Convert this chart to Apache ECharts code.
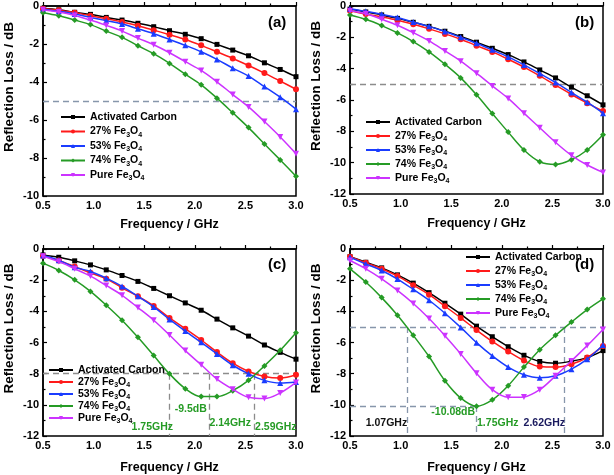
<!DOCTYPE html>
<html><head><meta charset="utf-8">
<script src="https://cdn.jsdelivr.net/npm/echarts@6/dist/echarts.min.js"></script>
<style>html,body{margin:0;padding:0;background:#fff}#c{width:614px;height:475px}</style>
</head><body><div id="c"></div>
<script>
const freq = [0.5,0.656,0.813,0.969,1.125,1.281,1.438,1.594,1.75,1.906,2.063,2.219,2.375,2.531,2.688,2.844,3.0];
const names = ['Activated Carbon','27% Fe3O4','53% Fe3O4','74% Fe3O4','Pure Fe3O4'];
const xTicks = ['0.5','1.0','1.5','2.0','2.5','3.0'];
// panel (a)
const a_ac = [-0.12,-0.2,-0.33,-0.44,-0.6,-0.74,-0.91,-1.09,-1.3,-1.49,-1.72,-2.02,-2.32,-2.62,-2.99,-3.34,-3.72];
const a_27 = [-0.15,-0.22,-0.35,-0.51,-0.67,-0.84,-1.04,-1.27,-1.51,-1.76,-2.07,-2.41,-2.76,-3.13,-3.53,-3.95,-4.38];
const a_53 = [-0.17,-0.28,-0.42,-0.6,-0.77,-0.95,-1.2,-1.46,-1.76,-2.07,-2.41,-2.81,-3.27,-3.69,-4.24,-4.8,-5.43];
const a_74 = [-0.35,-0.51,-0.74,-0.98,-1.32,-1.65,-2.09,-2.51,-3.02,-3.59,-4.15,-4.85,-5.62,-6.4,-7.26,-8.1,-8.96];
const a_pure = [-0.2,-0.32,-0.5,-0.74,-1.02,-1.32,-1.69,-2.04,-2.46,-2.93,-3.39,-3.99,-4.66,-5.31,-6.08,-6.89,-7.77];
// panel (b)
const b_ac = [-0.2,-0.38,-0.57,-0.79,-1.04,-1.3,-1.61,-1.95,-2.31,-2.7,-3.1,-3.57,-4.08,-4.59,-5.18,-5.73,-6.31];
const b_27 = [-0.3,-0.51,-0.7,-0.91,-1.17,-1.46,-1.78,-2.12,-2.53,-2.93,-3.4,-3.9,-4.46,-5.05,-5.65,-6.2,-6.71];
const b_53 = [-0.17,-0.34,-0.53,-0.74,-1.02,-1.3,-1.63,-2.0,-2.38,-2.8,-3.25,-3.76,-4.31,-4.88,-5.52,-6.14,-6.84];
const b_74 = [-0.57,-0.85,-1.25,-1.72,-2.27,-2.93,-3.72,-4.59,-5.67,-6.86,-8.05,-9.19,-9.94,-10.11,-9.81,-9.19,-8.22];
const b_pure = [-0.3,-0.49,-0.85,-1.23,-1.7,-2.23,-2.87,-3.52,-4.29,-5.1,-5.9,-6.84,-7.77,-8.7,-9.53,-10.15,-10.62];
// panel (c)
const c_ac = [-0.38,-0.53,-0.76,-1.02,-1.34,-1.7,-2.08,-2.53,-3.0,-3.46,-3.93,-4.5,-5.06,-5.59,-6.16,-6.63,-7.07];
const c_27 = [-0.45,-0.74,-1.13,-1.53,-1.91,-2.49,-3.04,-3.65,-4.42,-5.12,-5.84,-6.61,-7.33,-7.86,-8.18,-8.28,-8.07];
const c_53 = [-0.42,-0.72,-1.17,-1.44,-1.87,-2.4,-3.04,-3.72,-4.52,-5.27,-5.99,-6.73,-7.46,-8.01,-8.43,-8.6,-8.54];
const c_74 = [-0.91,-1.38,-1.98,-2.72,-3.61,-4.57,-5.67,-6.84,-8.01,-8.96,-9.47,-9.47,-9.09,-8.43,-7.5,-6.5,-5.37];
const c_pure = [-0.47,-0.81,-1.27,-1.74,-2.34,-2.97,-3.76,-4.57,-5.52,-6.52,-7.43,-8.35,-9.0,-9.52,-9.6,-9.24,-8.56];
// panel (d)
const d_ac = [-0.49,-0.85,-1.21,-1.66,-2.19,-2.8,-3.48,-4.18,-4.95,-5.63,-6.27,-6.82,-7.22,-7.33,-7.2,-6.97,-6.52];
const d_27 = [-0.5,-0.89,-1.27,-1.74,-2.32,-2.93,-3.67,-4.42,-5.2,-5.93,-6.58,-7.16,-7.54,-7.58,-7.39,-6.97,-6.22];
const d_53 = [-0.53,-0.96,-1.38,-1.93,-2.59,-3.29,-4.12,-5.03,-6.01,-6.86,-7.58,-8.07,-8.26,-8.14,-7.71,-7.07,-6.16];
const d_74 = [-1.27,-2.12,-3.12,-4.25,-5.54,-6.9,-8.45,-9.56,-10.09,-9.68,-8.77,-7.58,-6.46,-5.54,-4.69,-3.89,-3.2];
const d_pure = [-0.74,-1.27,-1.91,-2.66,-3.5,-4.46,-5.56,-6.73,-7.97,-9.03,-9.52,-9.49,-9.03,-8.14,-7.18,-6.2,-5.16];

const FONT = '"Liberation Sans", Arial, sans-serif';
const colors = ['#000000','#ff1a1a','#1a3cff','#259b25','#cc33ff'];
const symbols = ['rect','circle','triangle','diamond','triangle'];
const symRot = [0,0,0,0,180];
const symSize = [5,6,6,6,6];

const panels = [
  {label:'(a)', grid:{left:43, top:6, width:253, height:190}, ymin:-10, data:[a_ac,a_27,a_53,a_74,a_pure], leg:{left:60, top:110}, legGap:0.5, xGap:22, labPos:{left:268, top:15}},
  {label:'(b)', grid:{left:350, top:6, width:253, height:188}, ymin:-12, data:[b_ac,b_27,b_53,b_74,b_pure], leg:{left:365, top:115}, legGap:0, xGap:23, labPos:{left:575, top:15}},
  {label:'(c)', grid:{left:43, top:249, width:253, height:188}, ymin:-12, data:[c_ac,c_27,c_53,c_74,c_pure], leg:{left:48, top:363}, legGap:-2, xGap:25, labPos:{left:268, top:257}},
  {label:'(d)', grid:{left:350, top:249, width:253, height:188}, ymin:-12, data:[d_ac,d_27,d_53,d_74,d_pure], leg:{left:465, top:250}, legGap:0, xGap:25, labPos:{left:575, top:257}}
];

const dashBlue = {color:'#8796ab', type:[6,4], width:1.3};
const dashGrey = {color:'#8c8c8c', type:[6,4], width:1.3};
const markLines = [
  {style:dashBlue, data:[[{coord:[0.5,-5]},{coord:[3,-5]}]]},
  {style:dashGrey, data:[[{coord:[0.5,-5]},{coord:[3,-5]}]]},
  {style:dashGrey, data:[[{coord:[0.5,-8]},{coord:[3,-8]}],[{coord:[1.75,-8]},{coord:[1.75,-12]}],[{coord:[2.14,-8]},{coord:[2.14,-12]}],[{coord:[2.59,-8]},{coord:[2.59,-12]}]]},
  {style:dashBlue, data:[[{coord:[0.5,-5]},{coord:[3,-5]}],[{coord:[0.5,-10.08]},{coord:[1.75,-10.08]}],[{coord:[1.07,-5]},{coord:[1.07,-12]}],[{coord:[1.75,-10.08]},{coord:[1.75,-12]}],[{coord:[2.62,-5]},{coord:[2.62,-12]}]]}
];
const annotations = [
  [],
  [],
  [{coord:[1.58,-11.45], value:'1.75GHz', color:'#259b25'},{coord:[1.96,-10.26], value:'-9.5dB', color:'#259b25'},{coord:[2.35,-11.19], value:'2.14GHz', color:'#259b25'},{coord:[2.80,-11.45], value:'2.59GHz', color:'#259b25'}],
  [{coord:[0.86,-11.19], value:'1.07GHz', color:'#111111'},{coord:[1.52,-10.48], value:'-10.08dB', color:'#259b25'},{coord:[1.96,-11.19], value:'1.75GHz', color:'#259b25'},{coord:[2.42,-11.19], value:'2.62GHz', color:'#1a1a5e'}]
];

const option = {animation:false, backgroundColor:'#fff', grid:[], xAxis:[], yAxis:[], series:[], legend:[], title:[]};
panels.forEach((p, i) => {
  option.grid.push(Object.assign({show:true, borderColor:'#000', borderWidth:1.5, backgroundColor:'transparent'}, p.grid));
  option.xAxis.push({
    type:'value', gridIndex:i, min:0.5, max:3.0, interval:0.5,
    name:'Frequency / GHz', nameLocation:'middle', nameGap:p.xGap,
    nameTextStyle:{fontFamily:FONT, fontWeight:'bold', fontSize:12.5, color:'#000'},
    axisLine:{lineStyle:{color:'#000', width:1.5}},
    axisTick:{inside:true, length:4, lineStyle:{color:'#000', width:1.2}},
    minorTick:{show:true, splitNumber:2, length:2.5, lineStyle:{color:'#000', width:1.2}},
    splitLine:{show:false},
    axisLabel:{fontFamily:FONT, fontWeight:'bold', fontSize:11, color:'#000', margin:4, formatter:v => xTicks[Math.round((v-0.5)/0.5)]}
  });
  option.yAxis.push({
    type:'value', gridIndex:i, min:p.ymin, max:0, interval:2,
    name:'Reflection Loss / dB', nameLocation:'middle', nameGap:27,
    nameTextStyle:{fontFamily:FONT, fontWeight:'bold', fontSize:13.5, color:'#000', padding:[0,0,0,28]},
    axisLine:{lineStyle:{color:'#000', width:1.5}},
    axisTick:{inside:true, length:4, lineStyle:{color:'#000', width:1.2}},
    minorTick:{show:true, splitNumber:2, length:2.5, lineStyle:{color:'#000', width:1.2}},
    splitLine:{show:false},
    axisLabel:{fontFamily:FONT, fontWeight:'bold', fontSize:11, color:'#000', margin:4}
  });
  p.data.forEach((vals, k) => {
    const s = {
      type:'line', name:names[k], xAxisIndex:i, yAxisIndex:i,
      data: freq.map((f, j) => [f, vals[j]]),
      smooth:0.35, symbol:symbols[k], symbolRotate:symRot[k], symbolSize:symSize[k],
      showAllSymbol:true,
      itemStyle:{color:colors[k]}, lineStyle:{color:colors[k], width:1.5}, z:3+k
    };
    if (k === 0) {
      const ml = markLines[i];
      s.markLine = {silent:true, symbol:['none','none'], label:{show:false}, lineStyle:ml.style, data:ml.data, z:1};
    }
    if (k === 3 && annotations[i].length) {
      s.markPoint = {silent:true, symbol:'circle', symbolSize:0,
        data: annotations[i].map(a => ({coord:a.coord, value:a.value,
          label:{show:true, position:'inside', formatter:a.value, color:a.color, fontFamily:FONT, fontWeight:'bold', fontSize:10.5}}))};
    }
    option.series.push(s);
  });
  option.legend.push({
    data:names, orient:'vertical', left:p.leg.left, top:p.leg.top, itemGap:p.legGap,
    itemWidth:24, itemHeight:5, selectedMode:false, padding:0,
    formatter: n => n.replace('Fe3O4', 'Fe{s|3}O{s|4}'),
    textStyle:{fontFamily:FONT, fontWeight:'bold', fontSize:10.5, color:'#000', lineHeight:14,
      rich:{s:{fontFamily:FONT, fontWeight:'bold', fontSize:7, color:'#000', lineHeight:6, verticalAlign:'bottom'}}}
  });
  option.title.push({text:p.label, left:p.labPos.left, top:p.labPos.top, padding:0,
    textStyle:{fontFamily:FONT, fontWeight:'bold', fontSize:15, color:'#000'}});
});
const chart = echarts.init(document.getElementById('c'), null, {renderer:'canvas'});
chart.setOption(option);
</script></body></html>
